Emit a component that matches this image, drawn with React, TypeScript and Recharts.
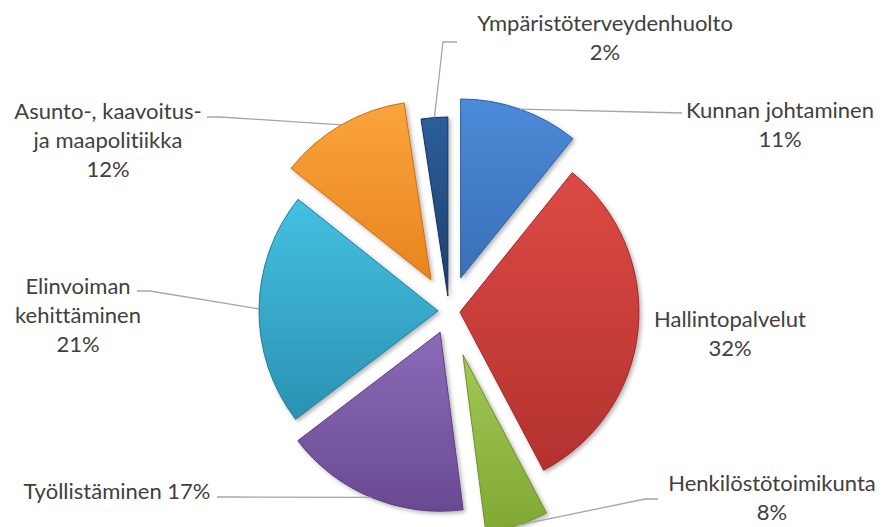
import React from 'react';
import { PieChart, Pie, Cell, Sector } from 'recharts';

// ---- data ----
const categories = [
  'Kunnan johtaminen',
  'Hallintopalvelut',
  'Henkilöstötoimikunta',
  'Työllistäminen',
  'Elinvoiman kehittäminen',
  'Asunto-, kaavoitus- ja maapolitiikka',
  'Ympäristöterveydenhuolto',
];
const shares = [10.8, 31.5, 5.7, 16.7, 21.1, 11.9, 2.4];
const percentLabels = ['11%', '32%', '8%', '17%', '21%', '12%', '2%'];
const labelLines: string[][] = [
  ['Kunnan johtaminen', '11%'],
  ['Hallintopalvelut', '32%'],
  ['Henkilöstötoimikunta', '8%'],
  ['Työllistäminen 17%'],
  ['Elinvoiman', 'kehittäminen', '21%'],
  ['Asunto-, kaavoitus-', 'ja maapolitiikka', '12%'],
  ['Ympäristöterveydenhuolto', '2%'],
];

const chartData = categories.map((name, i) => ({ name, value: shares[i], pct: percentLabels[i] }));

// ---- styles / layout ----
const COLORS: [string, string, string][] = [
  ['#4b8bd8', '#3a6fb8', '#2f5f9f'],
  ['#dc4a45', '#b3322e', '#9a2a27'],
  ['#a2c855', '#80a834', '#6e9029'],
  ['#8a6bb8', '#6a4a92', '#5a3e7d'],
  ['#45c0e2', '#2a92b2', '#237e9a'],
  ['#fba43c', '#e8841e', '#c96f14'],
  ['#2d5e9a', '#1c3f6e', '#16325a'],
];
const EXPLODE = [35, 11, 46, 23, 11, 36, 15];
const LABEL_POS = [
  { x: 780, y: 109, leader: [[682, 113]] },
  { x: 730, y: 318, leader: [] as number[][] },
  { x: 772, y: 482, leader: [[645, 499], [658, 499]] },
  { x: 117, y: 490, leader: [[232, 497], [217, 497]] },
  { x: 78, y: 285, leader: [[150, 291], [137, 291]] },
  { x: 108, y: 110, leader: [[220, 117], [207, 117]] },
  { x: 605, y: 22, leader: [[443, 42], [457, 42]] },
];
const LINE_H = 29;
const RAD = Math.PI / 180;
const FONT = 'Lato, "Open Sans", sans-serif';

const idxOf = (p: any) => {
  const n = p?.payload?.name ?? p?.name;
  const i = categories.indexOf(n);
  return i >= 0 ? i : (p?.index ?? 0);
};

const renderSector = (props: any) => {
  const i = idxOf(props);
  const e = EXPLODE[i] ?? 0;
  const dx = e * Math.cos(-props.midAngle * RAD);
  const dy = e * Math.sin(-props.midAngle * RAD);
  return (
    <Sector
      {...props}
      cx={props.cx + dx}
      cy={props.cy + dy}
      fill={`url(#grad${i})`}
      stroke={COLORS[i][2]}
      strokeWidth={1}
      filter="url(#shadow)"
    />
  );
};

const renderLabel = (props: any) => {
  const i = idxOf(props);
  const e = EXPLODE[i] ?? 0;
  const r = props.outerRadius + e;
  const sx = props.cx + r * Math.cos(-props.midAngle * RAD);
  const sy = props.cy + r * Math.sin(-props.midAngle * RAD);
  const pos = LABEL_POS[i];
  const pts = pos.leader.length ? [[sx, sy], ...pos.leader] : [];
  return (
    <g key={`lbl${i}`}>
      {pts.length > 0 && (
        <polyline
          points={pts.map((p) => p.join(',')).join(' ')}
          fill="none"
          stroke="#a6a6a6"
          strokeWidth={1.3}
        />
      )}
      {labelLines[i].map((t, k) => (
        <text
          key={k}
          x={pos.x}
          y={pos.y + k * LINE_H}
          textAnchor="middle"
          dominantBaseline="central"
          fill="#404040"
          fontSize={22}
          fontFamily={FONT}
          style={{ fontVariantLigatures: 'none' }}
        >
          {t}
        </text>
      ))}
    </g>
  );
};

export default function App() {
  return (
    <div style={{ position: 'absolute', left: 0, top: 0, width: 886, height: 527, background: '#fff' }}>
      <svg width={0} height={0} style={{ position: 'absolute' }}>
        <defs>
          {COLORS.map((c, i) => (
            <linearGradient key={i} id={`grad${i}`} x1="0" y1="0" x2="0" y2="1">
              <stop offset="0%" stopColor={c[0]} />
              <stop offset="100%" stopColor={c[1]} />
            </linearGradient>
          ))}
          <filter id="shadow" x="-20%" y="-20%" width="140%" height="140%">
            <feDropShadow dx="2" dy="2" stdDeviation="2" floodColor="#000" floodOpacity="0.3" />
          </filter>
        </defs>
      </svg>
      <PieChart width={886} height={527}>
        <Pie
          data={chartData}
          dataKey="value"
          nameKey="name"
          cx={444}
          cy={306}
          outerRadius={179}
          startAngle={90}
          endAngle={-270}
          isAnimationActive={false}
          shape={renderSector}
          label={renderLabel}
          labelLine={false}
        >
          {chartData.map((d, i) => (
            <Cell key={d.name} fill={`url(#grad${i})`} />
          ))}
        </Pie>
      </PieChart>
    </div>
  );
}
